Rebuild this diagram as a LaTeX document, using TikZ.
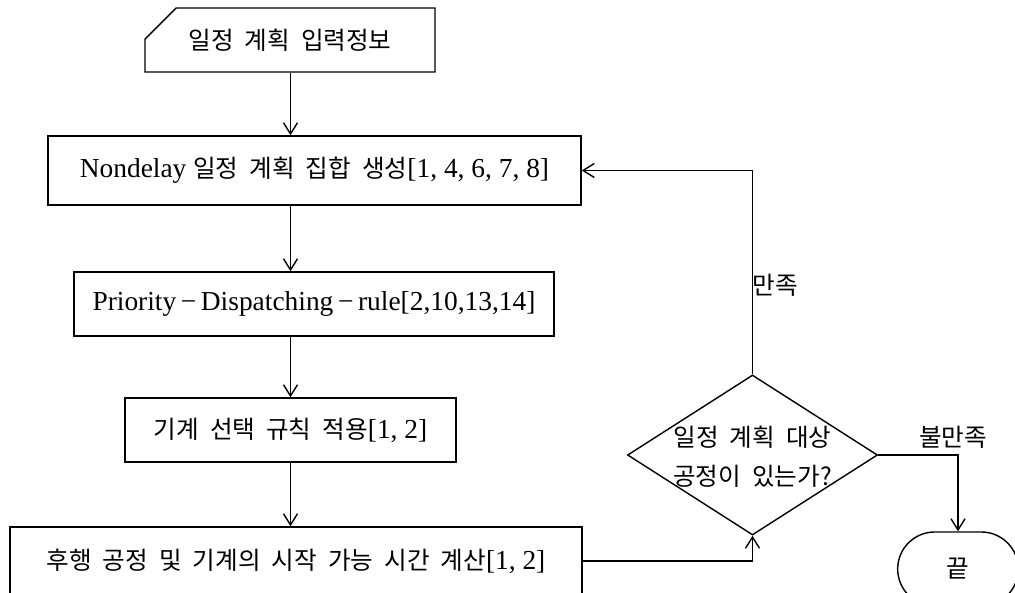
\documentclass[tikz,border=0pt]{standalone}
\usepackage{fontspec}
\setmainfont{Liberation Serif}
\newfontfamily\kr[WordSpace=2]{Noto Sans CJK KR}
\newcommand{\kor}[1]{{\kr\fontsize{17.5}{27}\selectfont #1}}
\usetikzlibrary{arrows.meta, shapes.geometric, shapes.misc}
\tikzset{
    >={Straight Barb[length=8pt, width=10pt]},
    flow/.style={line width=1pt},
    procbox/.style={draw, flow, minimum height=1.6cm, inner sep=0pt},
    inputbox/.style={procbox, chamfered rectangle, chamfered rectangle corners=north west,
        chamfered rectangle xsep=0.6cm, chamfered rectangle ysep=0.5cm},
    decision/.style={draw, flow, diamond, minimum width=6.25cm, minimum height=4cm, inner sep=0pt},
    terminal/.style={draw, flow, rounded rectangle, minimum width=3.25cm, minimum height=1.85cm},
    every node/.style={font=\fontsize{19.5}{27}\selectfont},
}
\begin{document}
\begin{tikzpicture}[x=0.025cm, y=-0.025cm]
    \useasboundingbox (0,0) rectangle (1015,593);
    \node[inputbox, minimum width=7.25cm] (in1) at (290,40) {\kor{일정 계획 입력정보}};
    \node[procbox, minimum width=13.325cm, minimum height=1.725cm] (gen) at (314.5,170.5)
        {Nondelay \kor{일정 계획 집합 생성}[1, 4, 6, 7, 8]};
    \node[procbox, minimum width=12cm] (pdr) at (314,304)
        {Priority\,−\,Dispatching\,−\,rule[2,10,13,14]};
    \node[procbox, minimum width=8.275cm] (sel) at (290.5,430) {\kor{기계 선택 규칙 적용}[1, 2]};
    \node[procbox, minimum width=14.3cm, minimum height=1.7cm] (calc) at (296,561)
        {\kor{후행 공정 및 기계의 시작 가능 시간 계산}[1, 2]};
    \node[decision] (chk) at (752.5,455) {};
    \node[align=center, font=\kr\fontsize{17.5}{28}\selectfont] (chktxt) at (752.5,457) {일정 계획 대상\\공정이 있는가?};
    \node[terminal] (end) at (958,569) {\kor{끝}};
    \node (ok) at (775,285) {\kor{만족}};
    \node (nok) at (953,437) {\kor{불만족}};
    % main flow
    \foreach \a/\b in {in1/gen,gen/pdr,pdr/sel,sel/calc}
        \draw[->, flow] (sel.north |- \a.south) -- (sel.north |- \b.north);
    \draw[->, flow] (calc.east) -| (chk.south);
    \draw[->, flow] (chk.north) |- (gen.east);
    \draw[->, flow] (chk.east) -| (end.north);
\end{tikzpicture}
\end{document}
